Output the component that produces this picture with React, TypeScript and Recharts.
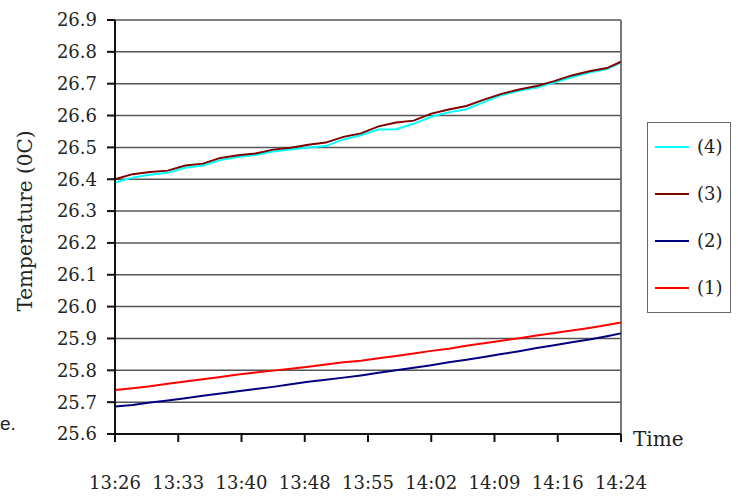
import React from 'react';
import { LineChart, Line, XAxis, YAxis, CartesianGrid, Legend, ReferenceLine } from 'recharts';

// Elapsed minutes since the first reading (13:26:30)
const minutes = [0, 2, 4, 6, 8, 10, 12, 14, 16, 18, 20, 22, 24, 26, 28, 30, 32, 34, 36, 38, 40, 42, 44, 46, 48, 50, 52, 54, 56, 57.6];

// Temperatures (°C) for the four probes
const probe1 = [25.738, 25.744, 25.750, 25.758, 25.765, 25.772, 25.779, 25.787, 25.793, 25.799, 25.805, 25.811, 25.818, 25.825, 25.830, 25.838, 25.845, 25.853, 25.861, 25.868, 25.877, 25.885, 25.893, 25.901, 25.909, 25.917, 25.925, 25.933, 25.942, 25.950];
const probe2 = [25.686, 25.691, 25.699, 25.705, 25.712, 25.720, 25.727, 25.734, 25.741, 25.748, 25.756, 25.764, 25.770, 25.777, 25.784, 25.792, 25.800, 25.808, 25.816, 25.825, 25.833, 25.842, 25.851, 25.860, 25.870, 25.879, 25.888, 25.897, 25.907, 25.916];
const probe3 = [26.400, 26.416, 26.423, 26.427, 26.443, 26.449, 26.467, 26.475, 26.481, 26.493, 26.499, 26.508, 26.515, 26.533, 26.544, 26.566, 26.578, 26.584, 26.606, 26.619, 26.630, 26.650, 26.668, 26.682, 26.693, 26.708, 26.726, 26.739, 26.749, 26.769];
const probe4 = [26.390, 26.405, 26.414, 26.420, 26.436, 26.443, 26.460, 26.470, 26.476, 26.487, 26.493, 26.500, 26.504, 26.525, 26.538, 26.556, 26.557, 26.574, 26.596, 26.610, 26.620, 26.642, 26.664, 26.678, 26.688, 26.704, 26.720, 26.735, 26.746, 26.767];

const timeTicks = [0, 7.2, 14.4, 21.6, 28.8, 36, 43.2, 50.4, 57.6];
const timeLabels = ['13:26', '13:33', '13:40', '13:48', '13:55', '14:02', '14:09', '14:16', '14:24'];
const tempTicks = [25.6, 25.7, 25.8, 25.9, 26.0, 26.1, 26.2, 26.3, 26.4, 26.5, 26.6, 26.7, 26.8, 26.9];

const rows = minutes.map((t, i) => ({
  t,
  p1: probe1[i],
  p2: probe2[i],
  p3: probe3[i],
  p4: probe4[i],
}));

const SERIF = '"DejaVu Serif", "Liberation Serif", serif';
const tickStyle = { fontFamily: SERIF, fontSize: 18, fill: '#222' };

const YTitle = (props: any) => {
  const vb = props.viewBox;
  const cx = vb.x - 30;
  const cy = vb.y + vb.height / 2 - 6;
  return (
    <text
      x={cx}
      y={cy}
      transform={`rotate(-90, ${cx}, ${cy})`}
      textAnchor="middle"
      dominantBaseline="central"
      style={{ fontFamily: SERIF, fontSize: 20, fill: '#222' }}
    >
      Temperature (0C)
    </text>
  );
};

const XTitle = (props: any) => {
  const vb = props.viewBox;
  return (
    <text
      x={vb.x + vb.width + 12}
      y={vb.y + 5}
      textAnchor="start"
      dominantBaseline="central"
      style={{ fontFamily: SERIF, fontSize: 20, fill: '#222' }}
    >
      Time
    </text>
  );
};

const LegendBox = (props: any) => {
  const items = [...(props.payload || [])].sort((a: any, b: any) =>
    String(b.value).localeCompare(String(a.value))
  );
  return (
    <div
      style={{
        width: 84,
        height: 191,
        boxSizing: 'border-box',
        border: '1px solid #666',
        background: '#fff',
        display: 'flex',
        flexDirection: 'column',
      }}
    >
      {items.map((it: any) => (
        <div key={it.value} style={{ height: 47.25, display: 'flex', alignItems: 'center' }}>
          <span style={{ display: 'inline-block', width: 34, height: 2, marginLeft: 7, background: it.color }} />
          <span style={{ marginLeft: 8, fontFamily: SERIF, fontSize: 18, color: '#222', lineHeight: '20px' }}>
            {it.value}
          </span>
        </div>
      ))}
    </div>
  );
};

export default function App() {
  return (
    <div style={{ position: 'absolute', left: 0, top: 0, width: 738, height: 497, background: '#fff' }}>
      <LineChart width={738} height={497} data={rows} margin={{ top: 20, right: 117, bottom: 0, left: 55 }}>
        <CartesianGrid horizontal vertical={false} stroke="#555" strokeWidth={1.5} />
        <XAxis
          dataKey="t"
          type="number"
          domain={[0, 57.6]}
          ticks={timeTicks}
          tickFormatter={(v: number) => timeLabels[timeTicks.indexOf(v)] ?? ''}
          interval={0}
          height={63}
          tickSize={8}
          tickMargin={34}
          tick={tickStyle}
          axisLine={{ stroke: '#111', strokeWidth: 2 }}
          tickLine={{ stroke: '#111', strokeWidth: 2 }}
          label={XTitle}
        />
        <YAxis
          type="number"
          domain={[25.6, 26.9]}
          ticks={tempTicks}
          tickFormatter={(v: number) => v.toFixed(1)}
          interval={0}
          width={60}
          tickSize={8}
          tickMargin={10}
          tick={tickStyle}
          axisLine={{ stroke: '#111', strokeWidth: 2 }}
          tickLine={{ stroke: '#111', strokeWidth: 2 }}
          label={YTitle}
        />
        <ReferenceLine x={57.6} stroke="#777" strokeWidth={2} />
        <Legend
          layout="vertical"
          align="center"
          verticalAlign="middle"
          content={LegendBox}
          wrapperStyle={{ left: 647, top: 122, width: 84, height: 191 }}
        />
        <Line type="linear" dataKey="p4" name="(4)" stroke="#00FFFF" strokeWidth={2} dot={false} isAnimationActive={false} />
        <Line type="linear" dataKey="p3" name="(3)" stroke="#800000" strokeWidth={2} dot={false} isAnimationActive={false} />
        <Line type="linear" dataKey="p2" name="(2)" stroke="#000080" strokeWidth={2} dot={false} isAnimationActive={false} />
        <Line type="linear" dataKey="p1" name="(1)" stroke="#FF0000" strokeWidth={2} dot={false} isAnimationActive={false} />
      </LineChart>
      <div
        style={{
          position: 'absolute',
          left: 0,
          top: 413,
          fontFamily: '"Liberation Sans", Arial, sans-serif',
          fontSize: 19,
          color: '#222',
          lineHeight: '22px',
        }}
      >
        e.
      </div>
    </div>
  );
}
